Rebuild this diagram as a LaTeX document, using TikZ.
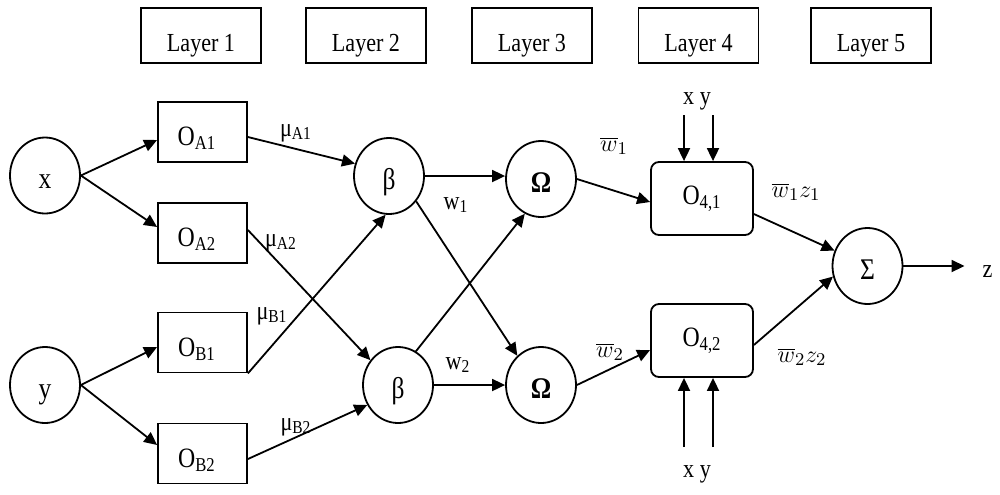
\documentclass[tikz,border=0pt]{standalone}
\usepackage{fontspec}
\setmainfont{Liberation Serif}[FakeStretch=0.85]
\usetikzlibrary{arrows.meta,shapes.geometric}

\tikzset{
  neuron/.style={draw, ellipse, line width=0.9pt, inner sep=0pt,
    minimum width=35pt, minimum height=38pt, text height=13pt, text depth=0pt,
    font=\fontsize{15}{17}\selectfont},
  mfbox/.style={draw, rectangle, line width=0.9pt, minimum width=44.5pt,
    minimum height=30pt, text height=13.5pt, text depth=0pt,
    font=\fontsize{14}{16}\selectfont,
    execute at end node={\hspace{5.5pt}}},
  rulebox/.style={draw, rectangle, rounded corners=4pt, line width=0.9pt,
    minimum width=51pt, minimum height=36.5pt, font=\fontsize{14}{16}\selectfont},
  layerbox/.style={draw, rectangle, line width=0.9pt, minimum width=60pt,
    minimum height=27.5pt, text height=16pt, text depth=0pt},
  link/.style={line width=0.9pt, -{Triangle[length=6.5pt,width=6pt]}},
}

\begin{document}
\begin{tikzpicture}[x=0.5pt, y=-0.5pt, font=\fontsize{13}{15}\selectfont]
  \useasboundingbox (0,0) rectangle (1000,494);

  \foreach \n/\px in {1/201, 2/366, 3/532, 4/698.5, 5/871}
    \node[layerbox] (l\n) at (\px,35.5) {Layer \n};

  \node[neuron] (x) at (45,175.5) {x};
  \node[neuron] (y) at (45,385) {y};
  \node[mfbox] (a1) at (202.5,132) {O\textsubscript{A1}};
  \node[mfbox] (a2) at (202.5,233) {O\textsubscript{A2}};
  \node[mfbox] (b1) at (202.5,342.5) {O\textsubscript{B1}};
  \node[mfbox] (b2) at (202.5,453.5) {O\textsubscript{B2}};
  \node[neuron] (p1) at (389,176) {β};
  \node[neuron] (p2) at (398,385) {β};
  \node[neuron] (n1) at (541,179) {\textbf{Ω}};
  \node[neuron] (n2) at (541,385) {\textbf{Ω}};
  \node[rulebox] (r1) at (702,198.5) {O\textsubscript{4,1}};
  \node[rulebox] (r2) at (702,340.5) {O\textsubscript{4,2}\hspace{10pt}};
  \node[neuron] (s) at (867.5,266) {Σ};
  \node (z) at (987.5,272) {z};

  \node (ma1) at (296,133) {μ\textsubscript{A1}};
  \node (ma2) at (281,243) {μ\textsubscript{A2}};
  \node (mb1) at (272,316) {μ\textsubscript{B1}};
  \node (mb2) at (296,427) {μ\textsubscript{B2}};
  \node (w1) at (456,205) {w\textsubscript{1}};
  \node (w2) at (458,365) {w\textsubscript{2}};
  \node (nw1) at (614,146) {$\overline{w}_1$};
  \node (nw2) at (610,352) {$\overline{w}_2$};
  \node (f1) at (796,192) {$\overline{w}_1 z_1$};
  \node (f2) at (802,357) {$\overline{w}_2 z_2$};
  \node (xy1) at (697,101) {x y};
  \node (xy2) at (697,474) {x y};

  \coordinate (u1) at (684,115);
  \coordinate (u2) at (713,115);
  \coordinate (d1) at (684,447);
  \coordinate (d2) at (713,447);

  % layer 1
  \draw[link] (x.east) -- ([yshift=-4pt]a1.west);
  \draw[link] (x.east) -- ([yshift=3pt]a2.west);
  \draw[link] (y.east) -- ([yshift=-2.25pt]b1.west);
  \draw[link] (y.east) -- ([yshift=4.25pt]b2.west);

  % layer 2
  \draw[link] ([yshift=-2.5pt]a1.east) -- (p1.160);
  \draw[link] ([yshift=1.5pt]a2.east) -- (p2.138);
  \draw[link] (b1.south east) -- (p1.265);
  \draw[link] ([yshift=-2.75pt]b2.east) -- (p2.213);

  % layer 3
  \draw[link] (p1.east) -- (p1.east -| n1.west);
  \draw[link] (p1.-43) -- (n2.129);
  \draw[link] (p2.62) -- (n1.245);
  \draw[link] (p2) -- (n2);

  % layer 4
  \draw[link] (n1.east) -- ([yshift=-1.75pt]r1.west);
  \draw[link] (n2.east) -- ([yshift=-4.75pt]r2.west);
  \foreach \c in {u1,u2}
    \draw[link] (\c) -- (\c |- r1.north);
  \foreach \c in {d1,d2}
    \draw[link] (\c) -- (\c |- r2.south);

  % layer 5
  \draw[link] ([yshift=-7.75pt]r1.east) -- (s.155);
  \draw[link] ([yshift=-2.25pt]r2.east) -- (s.197);
  \draw[link, shorten >=5.5pt] (s.east) -- (s.east -| z.west);
\end{tikzpicture}
\end{document}
